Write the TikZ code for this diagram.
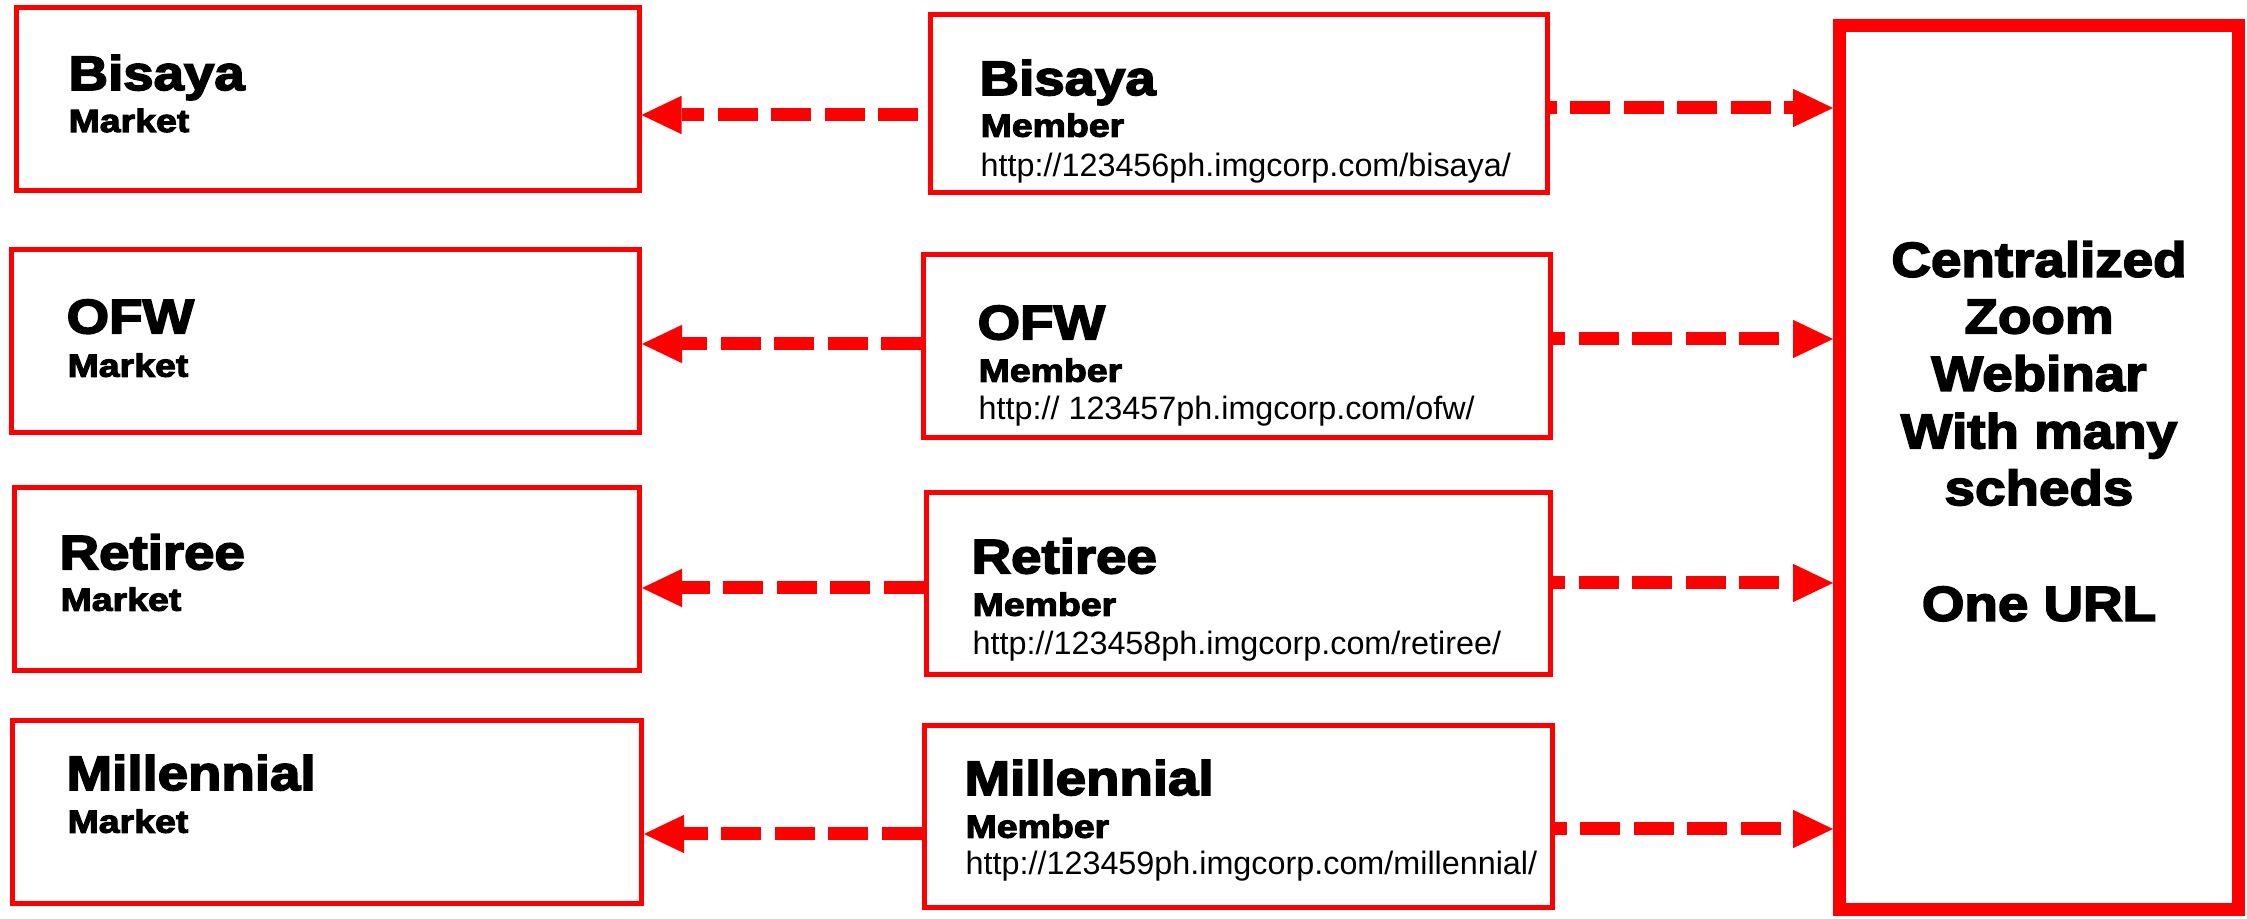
\documentclass[tikz,border=0pt]{standalone}
\usepackage{fontspec}
\setmainfont{Liberation Sans}
\newfontfamily\stretchfont[FakeStretch=1.13,FakeBold=3.5]{Liberation Sans}
\newfontfamily\subfont[FakeStretch=1.17,FakeBold=3.5]{Liberation Sans}
\newfontfamily\widefont[FakeStretch=1.12,FakeBold=3.5]{Liberation Sans}
\usetikzlibrary{arrows.meta}
\newdimen\px \px=0.3pt
\definecolor{pptred}{RGB}{255,0,0}
\tikzset{
  box/.style={draw=pptred, fill=white, line width=5\px, inner sep=0pt, rectangle, minimum height=183\px},
  bigbox/.style={draw=pptred, fill=white, line width=13\px, inner sep=0pt, rectangle},
  title/.style={anchor=base west, inner sep=0pt, font=\stretchfont\bfseries\fontsize{14.5}{17}\selectfont},
  sub/.style={anchor=base west, inner sep=0pt, font=\subfont\bfseries\fontsize{9.6}{11}\selectfont},
  url/.style={anchor=base west, inner sep=0pt, font=\fontsize{9.7}{11}\selectfont},
  rtext/.style={anchor=base, inner sep=0pt, font=\widefont\bfseries\fontsize{14.67}{17}\selectfont},
  link/.style={draw=pptred, line width=3.9pt, dash pattern=on 12pt off 4.05pt,
    -{Triangle[length=12pt,width=11.5pt,line width=0pt]}},
}
\begin{document}
\begin{tikzpicture}[x=0.3pt,y=-0.3pt]
\useasboundingbox[fill=white] (0,0) rectangle (2247,919);
% left market boxes
\node[box, minimum width=623\px] (L1) at (327.5,99) {};
\node[box, minimum width=628\px] (L2) at (325.5,341) {};
\node[box, minimum width=625\px] (L3) at (327,579) {};
\node[box, minimum width=629\px] (L4) at (327,812) {};
% member boxes
\node[box, minimum width=617\px, minimum height=177.5\px] (M1) at (1239,103.75) {};
\node[box, minimum width=627\px, minimum height=182.5\px] (M2) at (1237,346.25) {};
\node[box, minimum width=624.5\px, minimum height=182\px] (M3) at (1238.25,584) {};
\node[box, minimum width=628\px, minimum height=182.5\px] (M4) at (1238,816.75) {};
% central box
\node[bigbox, minimum width=399\px, minimum height=884\px] (R) at (2039,467.5) {};
% texts in left boxes
\node[title] (L1a) at (68,90) {Bisaya};
\node[sub]   (L1b) at (68,132) {Market};
\node[title] (L2a) at (66,333.3) {OFW};
\node[sub]   (L2b) at (67,376.7) {Market};
\node[title] (L3a) at (59,569.3) {Retiree};
\node[sub]   (L3b) at (60,610.7) {Market};
\node[title] (L4a) at (66,790) {Millennial};
\node[sub]   (L4b) at (67,832.7) {Market};
% texts in member boxes
\node[title] (M1a) at (979,95) {Bisaya};
\node[sub]   (M1b) at (980,136.7) {Member};
\node[url]   (M1c) at (980,176.7) {http://123456ph.imgcorp.com/bisaya/};
\node[title] (M2a) at (977,339.3) {OFW};
\node[sub]   (M2b) at (978,381.7) {Member};
\node[url]   (M2c) at (978,420) {http:// 123457ph.imgcorp.com/ofw/};
\node[title] (M3a) at (971,573.3) {Retiree};
\node[sub]   (M3b) at (972,615.7) {Member};
\node[url]   (M3c) at (972,655) {http://123458ph.imgcorp.com/retiree/};
\node[title] (M4a) at (964,795) {Millennial};
\node[sub]   (M4b) at (965,837.7) {Member};
\node[url]   (M4c) at (965,875) {http://123459ph.imgcorp.com/millennial/};
% central text
\node[rtext] (R1) at (2039,276.7) {Centralized};
\node[rtext] (R2) at (2039,333.3) {Zoom};
\node[rtext] (R3) at (2039,390.7) {Webinar};
\node[rtext] (R4) at (2039,448.3) {With many};
\node[rtext] (R5) at (2039,505) {scheds};
\node[rtext] (R6) at (2039,620.7) {One URL};
% connectors to markets
\draw[link, dash phase=13.05pt] (M1.west |- 0,115) -- (L1.east |- 0,115);
\draw[link] (M2.west |- 0,344) -- (L2.east |- 0,344);
\draw[link] (M3.west |- 0,588) -- (L3.east |- 0,588);
\draw[link] (M4.west |- 0,834) -- (L4.east |- 0,834);
% connectors to webinar
\draw[link, dash phase=10.05pt] (M1.east |- 0,108) -- (R.west |- 0,108);
\draw[link, dash phase=8.4pt] (M2.east |- 0,339) -- (R.west |- 0,339);
\draw[link, dash phase=8.4pt] (M3.east |- 0,583) -- (R.west |- 0,583);
\draw[link, dash phase=8.4pt] (M4.east |- 0,829) -- (R.west |- 0,829);
\end{tikzpicture}
\end{document}
